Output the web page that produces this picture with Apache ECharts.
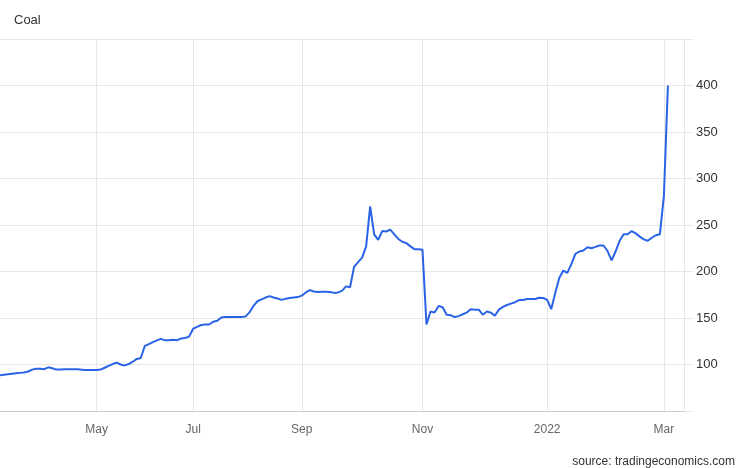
<!DOCTYPE html>
<html>
<head>
<meta charset="utf-8">
<script src="https://cdn.jsdelivr.net/npm/echarts@6/dist/echarts.min.js"></script>
<style>
html,body{margin:0;padding:0;background:#fff;}
#chart{width:746px;height:468px;}
</style>
</head>
<body>
<div id="chart"></div>
<script>
const coalValues = [
  88.5, 89, 89.5, 90, 90.5, 91, 91.5, 92.5, 94.5, 95.5,
  95.5, 95, 97, 96, 94.5, 94.5, 95, 95, 95, 95,
  94.5, 94.2, 94.2, 94, 94, 94.5, 96.5, 98.5, 100.5, 102,
  100, 99, 100.5, 103, 106, 107, 120, 122, 124, 126,
  127.5, 126, 126, 126.5, 126, 128, 128.5, 130, 138.5, 140.5,
  142.5, 143, 143, 146, 147, 150.5, 151, 151, 151, 151,
  151, 151.5, 156, 163, 168, 170, 172, 173.5, 172, 171,
  169.5, 170.8, 171.5, 172, 172.5, 174, 177.5, 180, 178.5, 178,
  178.3, 178.2, 178, 177, 177.5, 179.2, 184, 183, 205, 210,
  215, 227, 270, 240, 234, 243.5, 243, 245, 240, 235,
  232, 230.5, 227, 224, 224, 223.5, 143, 157, 156, 163,
  161.5, 153.5, 153, 151, 152, 154, 155.8, 159.5, 159, 159,
  153.5, 157, 155.8, 152.5, 159, 162, 164, 165.5, 167, 169.3,
  169.3, 170.5, 170.3, 170.5, 171.8, 171.5, 169.5, 159.5, 177, 193,
  201, 198.5, 208, 219, 221.5, 222.5, 226, 225, 226.5, 228,
  228, 222, 212, 221.5, 233, 240, 240, 243.5, 241, 237.5,
  234.5, 233, 236.3, 239, 240, 281, 400
];
// Axis: category slots (trading-day buckets), with month labels at these slots
const slotCount = 171;
const tickSlots = [24, 48, 75, 105, 136, 165];
const tickLabels = ['May', 'Jul', 'Sep', 'Nov', '2022', 'Mar'];
const yTicks = [100, 150, 200, 250, 300, 350, 400];

const categories = [];
for (let i = 0; i < slotCount; i++) categories.push('s' + i);

const chart = echarts.init(document.getElementById('chart'), null, {renderer: 'canvas'});
const isTick = (i) => tickSlots.indexOf(i) >= 0;
chart.setOption({
  animation: false,
  textStyle: {fontFamily: 'Liberation Sans, Arial, sans-serif'},
  title: [
    {text: 'Coal', left: 14, top: 14, padding: 0,
     textStyle: {fontSize: 13, fontWeight: 'normal', color: '#333'}},
    {text: 'source: tradingeconomics.com', right: 11, top: 456, padding: 0,
     textStyle: {fontSize: 12, fontWeight: 'normal', color: '#333'}}
  ],
  grid: {left: 0, right: 62, top: 39, bottom: 57, containLabel: false},
  xAxis: {
    type: 'category',
    boundaryGap: false,
    data: categories,
    axisLine: {show: true, lineStyle: {color: '#cccccc', width: 1}},
    axisTick: {show: false},
    axisLabel: {
      interval: (i) => isTick(i),
      formatter: (v, i) => { const k = tickSlots.indexOf(i); return k >= 0 ? tickLabels[k] : ''; },
      color: '#666', fontSize: 12, margin: 13
    },
    splitLine: {show: true, interval: (i) => isTick(i), lineStyle: {color: '#e6e6e6', width: 1}}
  },
  yAxis: {
    type: 'value',
    position: 'right',
    min: 50, max: 450, interval: 50,
    axisLine: {show: true, lineStyle: {color: '#e6e6e6', width: 1}},
    axisTick: {show: true, length: 9, lineStyle: {color: '#e6e6e6'}},
    axisLabel: {
      margin: 12, color: '#333', fontSize: 13, padding: [6, 0, 0, 0],
      formatter: (v) => yTicks.indexOf(v) >= 0 ? String(v) : ''
    },
    splitLine: {show: true, lineStyle: {color: '#e6e6e6', width: 1}}
  },
  series: [{
    type: 'line',
    data: coalValues,
    showSymbol: false,
    symbol: 'none',
    lineStyle: {color: '#2b63e6', width: 2},
    itemStyle: {color: '#2b63e6'},
    clip: false
  }]
});
</script>
</body>
</html>
